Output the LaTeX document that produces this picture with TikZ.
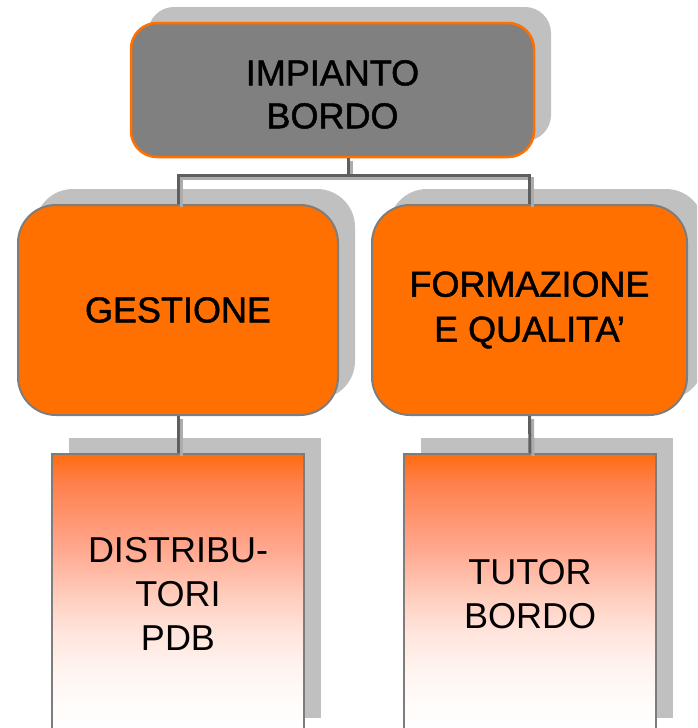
\documentclass[tikz,border=0pt]{standalone}
\usepackage{fontspec}
\setmainfont{Liberation Sans}
\newfontfamily\shadedfont[FakeBold=1.3]{Liberation Sans}
\usetikzlibrary{shadows}
\definecolor{orng}{RGB}{255,112,0}
\definecolor{boxgray}{RGB}{128,128,128}
\definecolor{edgegray}{RGB}{125,125,125}
\definecolor{shgray}{RGB}{192,192,192}
\definecolor{lnk}{RGB}{95,95,95}
\definecolor{lnklight}{RGB}{172,172,172}
\pgfdeclareverticalshading{lowgrad}{100bp}{%
  color(0bp)=(white);
  color(25bp)=(white);
  color(31bp)=(rgb,255:red,255;green,251;blue,248);
  color(37bp)=(rgb,255:red,255;green,243;blue,238);
  color(43bp)=(rgb,255:red,255;green,229;blue,221);
  color(49bp)=(rgb,255:red,255;green,208;blue,192);
  color(58bp)=(rgb,255:red,255;green,168;blue,144);
  color(70bp)=(rgb,255:red,255;green,127;blue,74);
  color(75bp)=(rgb,255:red,255;green,108;blue,16);
  color(100bp)=(rgb,255:red,255;green,108;blue,16)}
\begin{document}
\begin{tikzpicture}[x=1pt,y=-1pt,
  every node/.style={font=\fontsize{36}{44}\selectfont, align=center, inner sep=0pt, text=black},
  boxshadow/.style={drop shadow={shadow xshift=17pt, shadow yshift=16pt, fill=shgray, opacity=1}},
  topbox/.style={draw=orng, line width=2.5pt, fill=boxgray, rounded corners=26pt,
    minimum width=403pt, minimum height=134pt, boxshadow,
    font=\fontsize{36}{43}\shadedfont, text height=77pt},
  midbox/.style={draw=edgegray, line width=2pt, fill=orng, rounded corners=38pt,
    minimum height=210pt, boxshadow, font=\fontsize{36}{45}\shadedfont},
  lowbox/.style={draw=edgegray, line width=2pt, shading=lowgrad,
    minimum width=252pt, minimum height=280pt, boxshadow},
  link/.style={draw=lnk, line width=3pt},
  linklight/.style={draw=lnklight, line width=3pt, transform canvas={xshift=3pt, yshift=-3pt}}
]
\useasboundingbox (0,0) rectangle (697,728);
\clip (0,0) rectangle (697,728);

\node[topbox] (top) at (332.5,90) {IMPIANTO\\BORDO};
\node[midbox, minimum width=320pt] (ges) at (178,310) {GESTIONE};
\node[midbox, minimum width=315pt] (form) at (529.5,310) {FORMAZIONE\\E QUALITA’};
\node[lowbox] (dist) at (178,594) {DISTRIBU-\\TORI\\PDB};
\node[lowbox] (tut) at (530,594) {TUTOR\\BORDO};

\coordinate (j) at (348,175);

\draw[linklight] (top.south -| j) -- (j);
\draw[linklight] (ges.north) |- (j) -| (form.north);
\draw[linklight] (ges.south) -- (dist.north);
\draw[linklight] (form.south) -- (tut.north);

\draw[link] (top.south -| j) -- (j);
\draw[link] (ges.north) |- (j) -| (form.north);
\draw[link] (ges.south) -- (dist.north);
\draw[link] (form.south) -- (tut.north);
\end{tikzpicture}
\end{document}
